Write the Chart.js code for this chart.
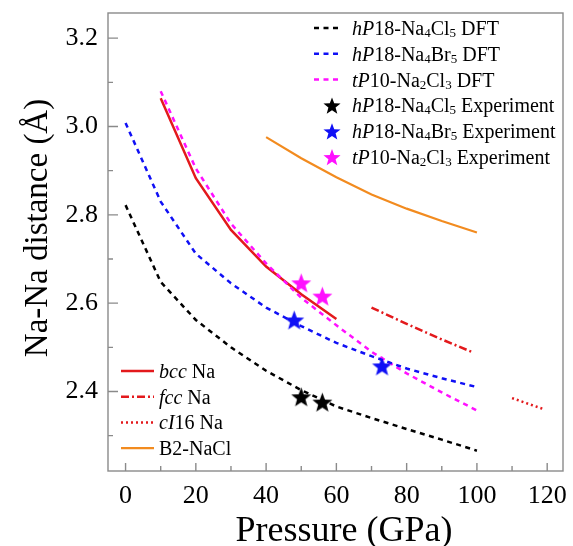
<!DOCTYPE html>
<html>
<head>
<meta charset="utf-8">
<script src="https://cdn.jsdelivr.net/npm/chart.js@4.4.1/dist/chart.umd.min.js"></script>
<style>
  html, body { margin: 0; padding: 0; background: #fff; }
  #wrap { width: 573px; height: 546px; position: relative; }
</style>
</head>
<body>
<div id="wrap"><canvas id="naChart"></canvas></div>
<script>
// DFT curves, pressure in GPa, distance in Å
const dftPressure = [0, 10, 20, 30, 40, 50, 60, 70, 80, 90, 100];
const na4cl5Dft = [2.822, 2.648, 2.562, 2.500, 2.447, 2.403, 2.366, 2.340, 2.315, 2.291, 2.266];
const na4br5Dft = [3.008, 2.830, 2.712, 2.645, 2.590, 2.548, 2.510, 2.480, 2.452, 2.430, 2.410];
const na2cl3Pressure = [10, 20, 30, 40, 50, 60, 70, 80, 90, 100];
const na2cl3Dft = [3.080, 2.905, 2.780, 2.690, 2.612, 2.550, 2.490, 2.441, 2.398, 2.357];

// experiment points
const na4cl5ExpP = [50, 56];
const na4cl5ExpD = [2.388, 2.376];
const na4br5ExpP = [48, 73];
const na4br5ExpD = [2.562, 2.458];
const na2cl3ExpP = [50, 56];
const na2cl3ExpD = [2.646, 2.616];

// pure Na phases and B2-NaCl
const bccP = [10, 20, 30, 40, 50, 60];
const bccD = [3.064, 2.883, 2.766, 2.683, 2.620, 2.564];
const fccP = [70, 80, 90, 99];
const fccD = [2.590, 2.553, 2.518, 2.488];
const ci16P = [110, 119];
const ci16D = [2.385, 2.360];
const b2P = [40, 50, 60, 70, 80, 90, 100];
const b2D = [2.976, 2.928, 2.885, 2.846, 2.814, 2.786, 2.760];

// labelled ticks
const xTickLabels = [0, 20, 40, 60, 80, 100, 120];
const yTickLabels = [2.4, 2.6, 2.8, 3.0, 3.2];

const SERIF = '"Liberation Serif", "Times New Roman", serif';
const RED = '#e3191c';
const ORANGE = '#f28b1f';
const BLUE = '#1010f5';
const MAGENTA = '#ff10ff';

function pts(xs, ys) {
    return xs.map((x, i) => ({ x: x, y: ys[i] }));
}

// filled five-point star for the experiment markers
function starImage(color, r) {
    const c = document.createElement('canvas');
    const s = Math.ceil(r * 2 + 2);
    c.width = s;
    c.height = s;
    const g = c.getContext('2d');
    g.translate(s / 2, s / 2 + r * 0.1);
    drawStar(g, 0, 0, r, color);
    return c;
}

function drawStar(g, cx, cy, r, color) {
    g.beginPath();
    for (let i = 0; i < 10; i++) {
        const rad = i % 2 === 0 ? r : r * 0.42;
        const a = -Math.PI / 2 + i * Math.PI / 5;
        g.lineTo(cx + rad * Math.cos(a), cy + rad * Math.sin(a));
    }
    g.closePath();
    g.fillStyle = color;
    g.fill();
}

function lineSet(label, xs, ys, color, dash, width) {
    return {
        label: label,
        data: pts(xs, ys),
        borderColor: color,
        backgroundColor: color,
        borderWidth: width || 2.5,
        borderDash: dash || [],
        pointRadius: 0,
        tension: 0,
        fill: false
    };
}

function starSet(label, xs, ys, color) {
    return {
        label: label,
        data: pts(xs, ys),
        showLine: false,
        pointStyle: starImage(color, 10.5),
        pointRadius: 9,
        borderColor: color,
        backgroundColor: color
    };
}

const DFT_DASH = [5, 4.5];
const FCC_DASH = [8, 3, 2, 3];
const CI16_DASH = [2, 3];

// legend rows: [text, style] pieces, style 'i' italic or 'sub' subscript
const legendTop = [
    { kind: 'line', color: '#000', dash: DFT_DASH, parts: [['hP', 'i'], ['18-Na'], ['4', 'sub'], ['Cl'], ['5', 'sub'], [' DFT']] },
    { kind: 'line', color: BLUE, dash: DFT_DASH, parts: [['hP', 'i'], ['18-Na'], ['4', 'sub'], ['Br'], ['5', 'sub'], [' DFT']] },
    { kind: 'line', color: MAGENTA, dash: DFT_DASH, parts: [['tP', 'i'], ['10-Na'], ['2', 'sub'], ['Cl'], ['3', 'sub'], [' DFT']] },
    { kind: 'star', color: '#000', parts: [['hP', 'i'], ['18-Na'], ['4', 'sub'], ['Cl'], ['5', 'sub'], [' Experiment']] },
    { kind: 'star', color: BLUE, parts: [['hP', 'i'], ['18-Na'], ['4', 'sub'], ['Br'], ['5', 'sub'], [' Experiment']] },
    { kind: 'star', color: MAGENTA, parts: [['tP', 'i'], ['10-Na'], ['2', 'sub'], ['Cl'], ['3', 'sub'], [' Experiment']] }
];
const legendBottom = [
    { kind: 'line', color: RED, dash: [], parts: [['bcc', 'i'], [' Na']] },
    { kind: 'line', color: RED, dash: FCC_DASH, parts: [['fcc', 'i'], [' Na']] },
    { kind: 'line', color: RED, dash: CI16_DASH, parts: [['cI', 'i'], ['16 Na']] },
    { kind: 'line', color: ORANGE, dash: [], width: 2.2, parts: [['B2-NaCl']] }
];

function drawLegend(ctx, rows, box) {
    rows.forEach((row, i) => {
        const cy = box.y + i * box.step;
        ctx.save();
        if (row.kind === 'line') {
            ctx.strokeStyle = row.color;
            ctx.lineWidth = row.width || 2.5;
            ctx.setLineDash(row.dash);
            ctx.beginPath();
            ctx.moveTo(box.x0, cy);
            ctx.lineTo(box.x1, cy);
            ctx.stroke();
        } else {
            drawStar(ctx, box.star, cy + 1, 9, row.color);
        }
        ctx.setLineDash([]);
        ctx.fillStyle = '#000';
        ctx.textBaseline = 'alphabetic';
        let tx = box.tx;
        row.parts.forEach(([txt, st]) => {
            let dy = 7;
            if (st === 'i') ctx.font = 'italic 20px ' + SERIF;
            else if (st === 'sub') { ctx.font = '13px ' + SERIF; dy = 9; }
            else ctx.font = '20px ' + SERIF;
            ctx.fillText(txt, tx, cy + dy);
            tx += ctx.measureText(txt).width;
        });
        ctx.restore();
    });
}

// inward ticks, plot frame, axis titles and both legends
const decorPlugin = {
    id: 'decor',
    afterDatasetsDraw(chart) {
        const { ctx, chartArea: a, scales: { x, y } } = chart;
        ctx.save();
        ctx.strokeStyle = '#8a8a8a';
        ctx.lineWidth = 1.4;
        ctx.strokeRect(a.left, a.top, a.right - a.left, a.bottom - a.top);
        ctx.beginPath();
        x.ticks.forEach(t => {
            const px = x.getPixelForValue(t.value);
            const len = t.label ? 8 : 5;
            ctx.moveTo(px, a.bottom);
            ctx.lineTo(px, a.bottom - len);
        });
        y.ticks.forEach(t => {
            const py = y.getPixelForValue(t.value);
            const len = t.label ? 10 : 5;
            ctx.moveTo(a.left, py);
            ctx.lineTo(a.left + len, py);
        });
        ctx.stroke();

        // axis titles
        ctx.fillStyle = '#000';
        ctx.textAlign = 'center';
        ctx.textBaseline = 'alphabetic';
        ctx.font = '36px ' + SERIF;
        ctx.fillText('Pressure (GPa)', 344, 541);
        ctx.translate(47, 228);
        ctx.rotate(-Math.PI / 2);
        ctx.font = '33px ' + SERIF;
        ctx.fillText('Na-Na distance (Å)', 0, 0);
        ctx.restore();

        drawLegend(ctx, legendTop, { y: 28, step: 25.8, x0: 314, x1: 338, star: 332, tx: 352 });
        drawLegend(ctx, legendBottom, { y: 371, step: 25.7, x0: 121, x1: 154, tx: 159 });
    }
};

function noPad(s) {
    s.paddingTop = 0;
    s.paddingBottom = 0;
    s.paddingLeft = 0;
    s.paddingRight = 0;
}

new Chart(document.getElementById('naChart'), {
    type: 'line',
    data: {
        datasets: [
            lineSet('hP18-Na4Cl5 DFT', dftPressure, na4cl5Dft, '#000', DFT_DASH),
            lineSet('hP18-Na4Br5 DFT', dftPressure, na4br5Dft, BLUE, DFT_DASH),
            lineSet('tP10-Na2Cl3 DFT', na2cl3Pressure, na2cl3Dft, MAGENTA, DFT_DASH),
            lineSet('bcc Na', bccP, bccD, RED, []),
            lineSet('fcc Na', fccP, fccD, RED, FCC_DASH),
            lineSet('cI16 Na', ci16P, ci16D, RED, CI16_DASH),
            lineSet('B2-NaCl', b2P, b2D, ORANGE, [], 2.2),
            starSet('hP18-Na4Cl5 Experiment', na4cl5ExpP, na4cl5ExpD, '#000'),
            starSet('hP18-Na4Br5 Experiment', na4br5ExpP, na4br5ExpD, BLUE),
            starSet('tP10-Na2Cl3 Experiment', na2cl3ExpP, na2cl3ExpD, MAGENTA)
        ]
    },
    options: {
        responsive: true,
        maintainAspectRatio: false,
        animation: false,
        layout: { padding: { top: 13, right: 5, left: 0, bottom: 0 } },
        plugins: {
            legend: { display: false },
            tooltip: { enabled: false }
        },
        scales: {
            x: {
                type: 'linear',
                min: -5,
                max: 124.5,
                grid: { display: false, drawTicks: false },
                border: { display: false },
                ticks: {
                    stepSize: 10,
                    includeBounds: false,
                    autoSkip: false,
                    maxRotation: 0,
                    padding: 10,
                    color: '#000',
                    font: { family: SERIF, size: 26 },
                    callback: v => xTickLabels.includes(v) ? String(v) : ''
                },
                title: { display: false },
                afterFit: s => { s.height = 75; noPad(s); }
            },
            y: {
                type: 'linear',
                min: 2.22,
                max: 3.257,
                grid: { display: false, drawTicks: false },
                border: { display: false },
                ticks: {
                    stepSize: 0.1,
                    includeBounds: false,
                    autoSkip: false,
                    padding: 10,
                    color: '#000',
                    font: { family: SERIF, size: 26 },
                    callback: v => yTickLabels.some(t => Math.abs(t - v) < 1e-6) ? v.toFixed(1) : ''
                },
                title: { display: false },
                afterFit: s => { s.width = 108; noPad(s); }
            }
        }
    },
    plugins: [decorPlugin]
});
</script>
</body>
</html>
